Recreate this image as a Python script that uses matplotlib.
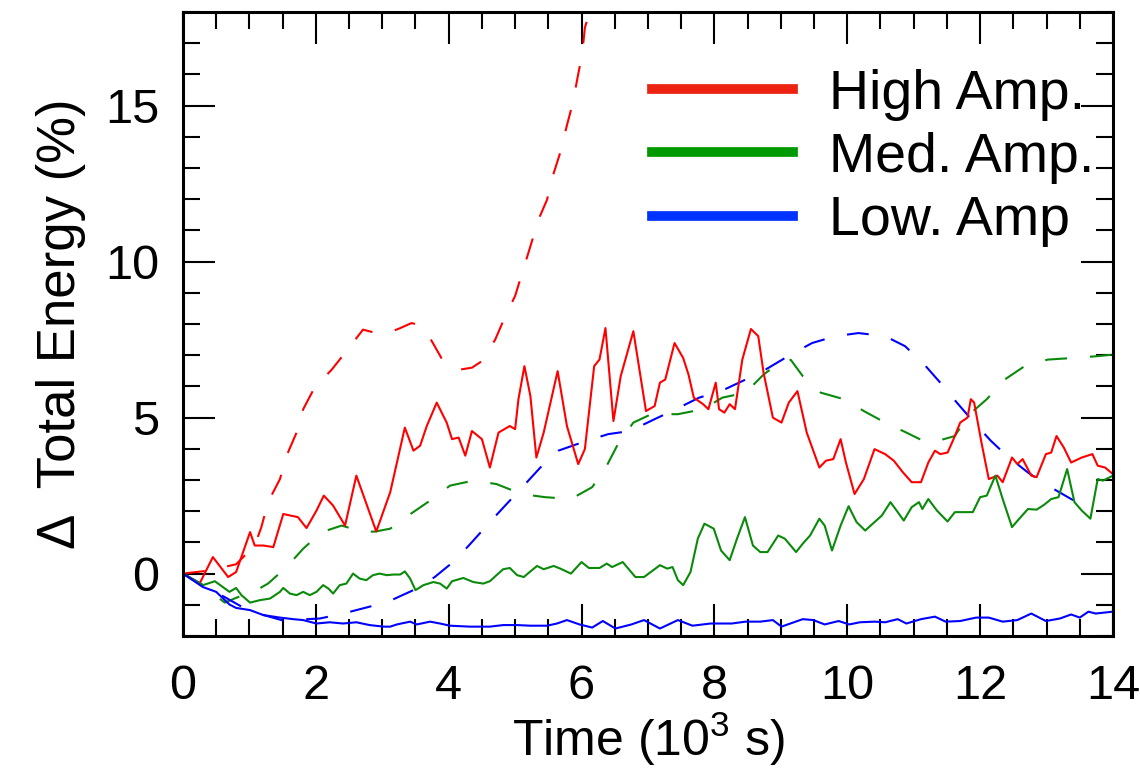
import numpy as np
import matplotlib
matplotlib.use('Agg')
import matplotlib.pyplot as plt
from matplotlib.lines import Line2D
from matplotlib.ticker import MultipleLocator

plt.rcParams['font.family'] = ['Liberation Sans', 'DejaVu Sans']
plt.rcParams['mathtext.fontset'] = 'custom'
plt.rcParams['mathtext.rm'] = 'Liberation Sans'

# time in 10^3 s, energy change in %
# High Amp., solid
hi_t = [0, 0.25, 0.45, 0.68, 0.80, 1.01, 1.08, 1.21, 1.36, 1.51, 1.73, 1.86, 2.01, 2.12, 2.26, 2.44, 2.61, 2.91, 3.12, 3.34,
        3.47, 3.57, 3.67, 3.82, 3.97, 4.05, 4.15, 4.25, 4.35, 4.50, 4.62, 4.75, 4.92, 5.00, 5.05, 5.14, 5.23, 5.32, 5.43, 5.64,
        5.78, 5.95, 6.05, 6.19, 6.27, 6.36, 6.48, 6.59, 6.78, 6.97, 7.10, 7.18, 7.26, 7.40, 7.53, 7.61, 7.69, 7.83, 7.91, 8.02,
        8.07, 8.15, 8.23, 8.31, 8.42, 8.55, 8.66, 8.74, 8.88, 9.01, 9.12, 9.25, 9.39, 9.58, 9.68, 9.79, 9.90, 9.98, 10.11, 10.25,
        10.41, 10.57, 10.70, 10.84, 10.97, 11.11, 11.22, 11.32, 11.40, 11.51, 11.59, 11.70, 11.81, 11.86, 11.91, 12.02, 12.13, 12.26, 12.34, 12.48,
        12.56, 12.64, 12.77, 12.85, 12.99, 13.07, 13.15, 13.26, 13.37, 13.53, 13.69, 13.77, 13.88, 14.0]
hi_v = [0, -0.32, 0.53, -0.11, 0.05, 1.33, 0.90, 0.90, 0.85, 1.91, 1.81, 1.46, 2.02, 2.50, 2.18, 1.54, 3.14, 1.35, 2.61, 4.68,
        3.94, 4.10, 4.73, 5.48, 4.84, 4.31, 4.36, 3.78, 4.57, 4.31, 3.40, 4.52, 4.73, 4.63, 5.59, 6.65, 5.69, 3.72, 4.52, 6.49,
        4.73, 3.51, 3.99, 6.65, 6.86, 7.87, 4.89, 6.33, 7.77, 5.21, 5.37, 6.12, 6.22, 7.39, 6.91, 6.38, 5.64, 5.43, 5.27, 6.12,
        5.27, 5.16, 5.43, 5.27, 6.86, 7.84, 7.61, 6.44, 5.00, 4.84, 5.48, 5.85, 4.52, 3.40, 3.62, 3.67, 4.31, 3.56, 2.55, 3.03,
        3.99, 3.83, 3.62, 3.24, 2.93, 2.93, 3.56, 3.94, 3.83, 3.88, 4.26, 4.84, 5.00, 5.59, 5.48, 4.20, 3.03, 3.14, 2.93, 3.72,
        3.51, 3.67, 3.14, 3.09, 3.83, 3.88, 4.41, 4.04, 3.56, 3.72, 3.83, 3.46, 3.40, 3.19]

# High Amp., dashed
hid_t = [0, 0.4, 0.8, 1.08, 1.18, 1.28, 1.46, 1.56, 1.71, 1.81, 1.98, 2.24, 2.46, 2.71, 2.91, 3.07, 3.25, 3.44, 3.54, 3.69,
         3.89, 4.02, 4.17, 4.35, 4.50, 4.70, 4.85, 5.0, 5.13, 5.23, 5.35, 5.48, 5.58, 5.68, 5.78, 5.87, 5.94, 6.01, 6.05, 6.13]
hid_v = [0, 0.1, 0.3, 0.9, 1.49, 2.29, 3.03, 3.78, 4.52, 5.27, 5.96, 6.54, 7.13, 7.82, 7.71, 7.71, 7.85, 8.03, 7.98, 7.66,
         6.91, 6.65, 6.54, 6.6, 6.81, 7.5, 8.24, 8.9, 9.8, 10.49, 11.34, 11.98, 12.83, 13.5, 14.37, 15.1, 15.9, 16.66, 17.5, 18.04]

# Med. Amp., solid
med_t = [0, 0.30, 0.48, 0.70, 0.80, 0.88, 1.01, 1.16, 1.31, 1.46, 1.51, 1.61, 1.71, 1.81, 1.91, 2.01, 2.11, 2.19, 2.26, 2.36,
         2.46, 2.56, 2.66, 2.76, 2.86, 2.96, 3.07, 3.17, 3.27, 3.34, 3.42, 3.50, 3.62, 3.77, 3.87, 3.97, 4.05, 4.22, 4.37, 4.52,
         4.62, 4.72, 4.82, 4.92, 5.03, 5.13, 5.23, 5.33, 5.43, 5.58, 5.68, 5.84, 6.0, 6.11, 6.27, 6.38, 6.46, 6.62, 6.81, 6.94,
         7.08, 7.18, 7.29, 7.37, 7.45, 7.53, 7.64, 7.75, 7.85, 7.99, 8.10, 8.23, 8.34, 8.46, 8.58, 8.69, 8.80, 8.96, 9.06, 9.23,
         9.33, 9.44, 9.58, 9.66, 9.77, 9.90, 10.02, 10.14, 10.27, 10.41, 10.52, 10.65, 10.76, 10.85, 10.97, 11.08, 11.13, 11.22, 11.35, 11.51,
         11.62, 11.75, 11.89, 12.0, 12.10, 12.23, 12.34, 12.48, 12.59, 12.72, 12.85, 12.96, 13.07, 13.18, 13.31, 13.42, 13.53, 13.66, 13.77, 13.85,
         14.0]
med_v = [0, -0.37, -0.245, -0.585, -0.46, -0.69, -0.93, -0.85, -0.80, -0.585, -0.46, -0.64, -0.69, -0.585, -0.69, -0.585, -0.37, -0.48, -0.64, -0.37,
         -0.32, 0, -0.16, -0.21, -0.05, 0, -0.05, -0.03, -0.03, 0.07, -0.16, -0.53, -0.37, -0.27, -0.32, -0.48, -0.245, -0.14, -0.27, -0.32,
         -0.245, -0.05, 0.14, 0.18, -0.05, -0.11, 0.07, 0.245, 0.14, 0.245, 0.16, 0, 0.37, 0.18, 0.18, 0.32, 0.21, 0.37, -0.11, -0.11,
         0.11, 0.27, 0.16, 0.21, -0.21, -0.37, 0.05, 1.12, 1.60, 1.44, 0.74, 0.43, 1.12, 1.81, 0.90, 0.69, 0.69, 1.22, 1.12, 0.69,
         0.96, 1.22, 1.76, 1.54, 0.74, 1.54, 2.16, 1.65, 1.38, 1.65, 1.86, 2.29, 1.97, 1.70, 2.13, 2.29, 2.07, 2.39, 2.02, 1.67,
         1.97, 1.97, 1.97, 2.45, 2.50, 3.14, 2.39, 1.49, 1.76, 2.07, 2.05, 2.20, 2.39, 2.45, 3.35, 2.29, 2.02, 1.76, 3.03, 2.98,
         3.14]

# Med. Amp., dashed
medd_t = [0, 0.3, 0.63, 0.83, 1.05, 1.28, 1.56, 1.81, 2.09, 2.39, 2.71, 2.9, 3.12, 3.39, 3.72, 4.02, 4.37, 4.72, 5.10, 5.45,
          5.84, 6.16, 6.38, 6.56, 6.78, 7.05, 7.45, 7.83, 8.12, 8.47, 8.74, 9.01, 9.15, 9.33, 9.60, 9.95, 10.25, 10.57, 10.89, 11.1,
          11.27, 11.62, 11.81, 12.10, 12.37, 12.67, 13.02, 13.39, 13.77, 14.0]
medd_v = [0, -0.4, -0.93, -0.75, -0.6, -0.32, 0.21, 0.80, 1.33, 1.54, 1.33, 1.35, 1.44, 1.86, 2.34, 2.82, 2.98, 2.87, 2.55, 2.45,
          2.39, 2.77, 3.46, 4.20, 4.84, 5.11, 5.11, 5.27, 5.64, 5.80, 6.38, 6.81, 6.85, 6.33, 5.80, 5.59, 5.21, 4.84, 4.52, 4.3,
          4.20, 4.41, 5.05, 5.59, 6.22, 6.65, 6.86, 6.91, 6.97, 7.02]

# Low. Amp, solid
low_t = [0, 0.30, 0.50, 0.63, 0.70, 0.80, 1.01, 1.21, 1.46, 1.66, 1.81, 2.01, 2.21, 2.41, 2.61, 2.81, 3.02, 3.12, 3.22, 3.42,
         3.52, 3.72, 3.87, 4.02, 4.32, 4.62, 4.82, 5.03, 5.23, 5.48, 5.63, 5.78, 5.97, 6.16, 6.32, 6.51, 6.75, 6.94, 7.18, 7.45,
         7.67, 7.94, 8.26, 8.47, 8.69, 8.88, 9.01, 9.33, 9.49, 9.66, 9.87, 10.03, 10.19, 10.41, 10.57, 10.76, 10.89, 11.11, 11.32, 11.48,
         11.70, 11.94, 12.13, 12.34, 12.56, 12.77, 12.99, 13.20, 13.37, 13.50, 13.63, 13.74, 14.0]
low_v = [0, -0.43, -0.585, -0.85, -0.99, -1.10, -1.17, -1.33, -1.41, -1.46, -1.49, -1.60, -1.56, -1.60, -1.56, -1.65, -1.70, -1.70, -1.63, -1.54,
         -1.63, -1.54, -1.60, -1.67, -1.70, -1.70, -1.65, -1.65, -1.67, -1.67, -1.60, -1.49, -1.63, -1.73, -1.52, -1.76, -1.63, -1.49, -1.76, -1.49,
         -1.67, -1.60, -1.60, -1.54, -1.54, -1.49, -1.70, -1.46, -1.49, -1.63, -1.52, -1.63, -1.56, -1.54, -1.56, -1.46, -1.60, -1.46, -1.38, -1.54,
         -1.52, -1.41, -1.41, -1.54, -1.49, -1.28, -1.52, -1.44, -1.31, -1.41, -1.22, -1.28, -1.22]

# Low. Amp, dashed
lowd_t = [0, 0.5, 1.0, 1.5, 2.06, 2.41, 2.81, 3.14, 3.52, 3.79, 4.10, 4.35, 4.62, 4.85, 5.13, 5.38, 5.65, 6.0, 6.40, 6.73,
          7.10, 7.42, 7.77, 8.10, 8.47, 8.77, 9.15, 9.47, 9.82, 10.17, 10.57, 10.87, 11.16, 11.40, 11.65, 11.89, 12.16, 12.40, 12.72, 13.02,
          13.37, 13.69]
lowd_v = [0, -0.6, -1.2, -1.5, -1.44, -1.28, -1.06, -0.85, -0.48, -0.11, 0.43, 1.01, 1.65, 2.18, 2.82, 3.40, 3.94, 4.20, 4.47, 4.57,
          4.95, 5.27, 5.64, 5.85, 6.22, 6.54, 7.02, 7.39, 7.61, 7.71, 7.61, 7.29, 6.70, 6.12, 5.48, 4.89, 4.26, 3.78, 3.24, 2.82,
          2.39, 2.07]

labels = ['High Amp.', 'Med. Amp.', 'Low. Amp']
red = '#ff0000'
green = '#0a8a0a'
blue = '#0000ff'

fig = plt.figure(figsize=(11.4, 7.71), dpi=100)
ax = fig.add_axes([0.1605, 0.1751, 0.8158, 0.8093])

lw = 1.5
dash = (10.5, 11)
ax.plot(hid_t, hid_v, color=red, lw=lw, dashes=dash)
ax.plot(medd_t, medd_v, color=green, lw=lw, dashes=dash)
ax.plot(lowd_t, lowd_v, color=blue, lw=lw, dashes=dash)
ax.plot(hi_t, hi_v, color=red, lw=lw)
ax.plot(med_t, med_v, color=green, lw=lw)
ax.plot(low_t, low_v, color=blue, lw=lw)

ax.set_xlim(0, 14)
ax.set_ylim(-2, 18)
ax.xaxis.set_major_locator(MultipleLocator(2))
ax.xaxis.set_minor_locator(MultipleLocator(0.5))
ax.yaxis.set_major_locator(MultipleLocator(5))
ax.yaxis.set_minor_locator(MultipleLocator(1))
ax.tick_params(which='both', direction='in', top=True, right=True, width=1.5, labelsize=35)
ax.tick_params(which='major', length=23)
ax.tick_params(which='minor', length=12)
ax.tick_params(axis='x', pad=20)
ax.tick_params(axis='y', pad=17)
for s in ax.spines.values():
    s.set_linewidth(2.2)

ax.set_xlabel('Time (10$^3$ s)', fontsize=36, labelpad=1)
ax.set_ylabel('Δ  Total Energy (%)', fontsize=38, labelpad=14)

handles = [Line2D([], [], color=c, lw=7) for c in ['#ee2211', '#009900', '#0033ff']]
ax.legend(handles, labels, loc='upper left', bbox_to_anchor=(0.504, 0.909), frameon=False,
          fontsize=40, handlelength=2.55, handletextpad=0.65, labelspacing=0.2, borderpad=0, borderaxespad=0)

fig.savefig('out.png', dpi=100)
